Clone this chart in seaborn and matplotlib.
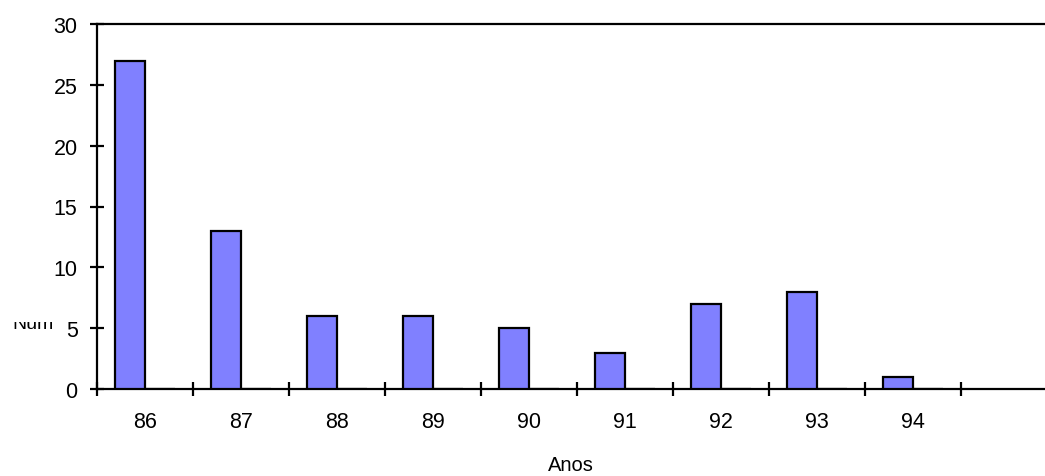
import matplotlib
matplotlib.use("Agg")
import matplotlib.pyplot as plt
import seaborn as sns
import pandas as pd
from matplotlib.transforms import Bbox, TransformedBbox, IdentityTransform

anos = ["86", "87", "88", "89", "90", "91", "92", "93", "94"]
valores = [27, 13, 6, 6, 5, 3, 7, 8, 1]
yticks = [0, 5, 10, 15, 20, 25, 30]

sns.set_theme(style="white")
plt.rcParams['font.family'] = ['Liberation Sans', 'DejaVu Sans']

df = pd.DataFrame({
    "ano": anos + anos,
    "valor": valores + [0] * len(anos),
    "serie": ["A"] * len(anos) + ["B"] * len(anos),
})

fig = plt.figure(figsize=(10.45, 4.77), dpi=100)
ax = fig.add_axes([97 / 1045, 1 - 390 / 477, 1 - 97 / 1045, (390 - 25) / 477])

sns.barplot(data=df, x="ano", y="valor", hue="serie", hue_order=["A", "B"],
            order=anos, palette=["#8080FF", "#8080FF"], saturation=1,
            width=0.62, gap=0, edgecolor="black", linewidth=1.6,
            legend=False, ax=ax, zorder=3)

ax.set_xlim(-0.5, 9.375)
ax.set_ylim(0, 30)

# major x ticks at category boundaries, labels on minor ticks at centres
n = len(anos)
ax.set_xticks([i - 0.5 for i in range(n + 1)])
ax.set_xticklabels([])
ax.set_xticks(list(range(n)), minor=True)
ax.set_xticklabels(anos, minor=True)
ax.tick_params(axis="x", which="major", direction="inout", length=10, width=1.6,
               color="black", bottom=True)
ax.tick_params(axis="x", which="minor", length=0, pad=15.5, labelsize=15.5,
               labelcolor="black", bottom=True)

ax.set_yticks(yticks)
ax.set_yticklabels([str(v) for v in yticks])
ax.tick_params(axis="y", which="major", direction="inout", length=10, width=1.6,
               color="black", pad=9.0, labelsize=15.5, labelcolor="black", left=True)

for side in ["left", "bottom", "top"]:
    ax.spines[side].set_visible(True)
    ax.spines[side].set_color("black")
    ax.spines[side].set_linewidth(1.6)
ax.spines["right"].set_visible(False)

ax.set_xlabel("Anos", fontsize=14.5, labelpad=17, color="black")
ax.set_ylabel("")

# clipped y-axis label fragment
t = fig.text(12 / 1045, 1 - 329 / 477, "Núm", fontsize=14, color="black",
             ha="left", va="baseline")
t.set_clip_on(True)
t.set_clip_box(TransformedBbox(Bbox.from_extents(0, 0, 60, 477 - 323),
                               IdentityTransform()))

fig.savefig("out.png", dpi=100)
